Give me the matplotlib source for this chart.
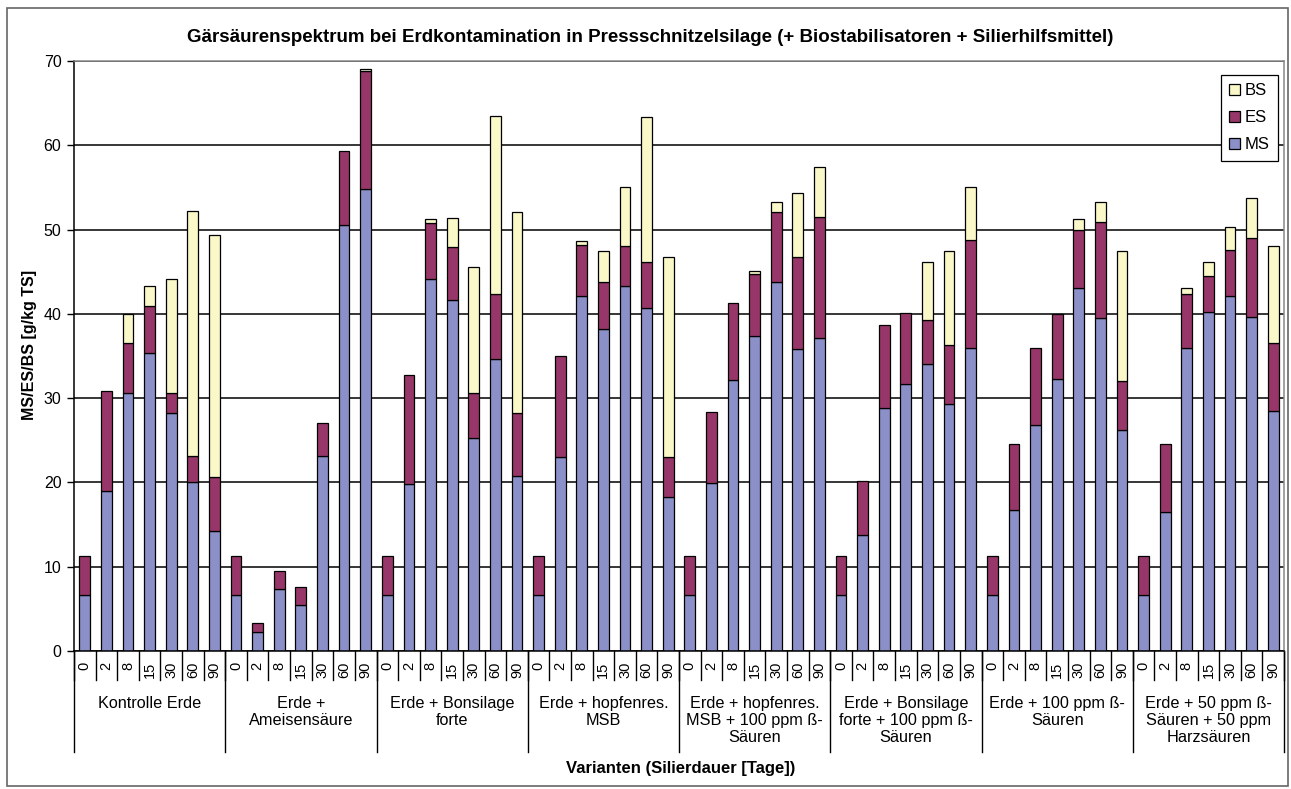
import matplotlib
matplotlib.use("Agg")
import matplotlib.pyplot as plt
import matplotlib.patches as mpatches
import numpy as np

plt.rcParams['font.family'] = ['Liberation Sans', 'DejaVu Sans']

# Silierdauer je Variante
days = ["0", "2", "8", "15", "30", "60", "90"]

groups = [
    "Kontrolle Erde",
    "Erde +\nAmeisensäure",
    "Erde + Bonsilage\nforte",
    "Erde + hopfenres.\nMSB",
    "Erde + hopfenres.\nMSB + 100 ppm ß-\nSäuren",
    "Erde + Bonsilage\nforte + 100 ppm ß-\nSäuren",
    "Erde + 100 ppm ß-\nSäuren",
    "Erde + 50 ppm ß-\nSäuren + 50 ppm\nHarzsäuren",
]

# Milchsäure [g/kg TS]
ms = [
    [6.6, 19.0, 30.6, 35.3, 28.2, 20.0, 14.2],
    [6.6, 2.2, 7.3, 5.5, 23.1, 50.5, 54.8],
    [6.6, 19.8, 44.1, 41.7, 25.3, 34.6, 20.8],
    [6.6, 23.0, 42.1, 38.2, 43.3, 40.7, 18.3],
    [6.6, 19.9, 32.2, 37.4, 43.8, 35.8, 37.1],
    [6.6, 13.8, 28.8, 31.7, 34.0, 29.3, 36.0],
    [6.6, 16.7, 26.8, 32.3, 43.1, 39.5, 26.2],
    [6.6, 16.5, 35.9, 40.2, 42.1, 39.6, 28.5],
]

# Essigsäure [g/kg TS]
es = [
    [4.7, 11.9, 6.0, 5.6, 2.4, 3.1, 6.4],
    [4.7, 1.1, 2.2, 2.1, 3.9, 8.8, 14.0],
    [4.7, 12.9, 6.7, 6.2, 5.3, 7.7, 7.4],
    [4.7, 12.0, 6.1, 5.6, 4.7, 5.5, 4.7],
    [4.7, 8.5, 9.1, 7.3, 8.3, 11.0, 14.4],
    [4.7, 6.4, 9.9, 8.4, 5.3, 7.0, 12.8],
    [4.7, 7.8, 9.2, 7.7, 6.8, 11.4, 5.8],
    [4.7, 8.1, 6.5, 4.3, 5.5, 9.4, 8.0],
]

# Buttersäure [g/kg TS]
bs = [
    [0.0, 0.0, 3.4, 2.4, 13.5, 29.1, 28.8],
    [0.0, 0.0, 0.0, 0.0, 0.0, 0.0, 0.3],
    [0.0, 0.0, 0.4, 3.5, 14.9, 21.2, 23.9],
    [0.0, 0.0, 0.4, 3.6, 7.0, 17.1, 23.8],
    [0.0, 0.0, 0.0, 0.4, 1.2, 7.5, 5.9],
    [0.0, 0.0, 0.0, 0.0, 6.8, 11.2, 6.2],
    [0.0, 0.0, 0.0, 0.0, 1.4, 2.4, 15.4],
    [0.0, 0.0, 0.7, 1.7, 2.7, 4.7, 11.6],
]

col_ms = "#8C90C8"
col_es = "#973769"
col_bs = "#FAF8C8"

W, H = 1291, 789
fig = plt.figure(figsize=(W / 100, H / 100), dpi=100)
ax = fig.add_axes([74 / W, 1 - 651 / H, (1284 - 74) / W, (651 - 61) / H])

ms_flat = np.array(ms).ravel()
es_flat = np.array(es).ravel()
bs_flat = np.array(bs).ravel()
x = np.arange(len(ms_flat))

ax.set_axisbelow(True)
ax.bar(x, ms_flat, width=0.5, color=col_ms, edgecolor="black", linewidth=0.9, zorder=2)
ax.bar(x, es_flat, width=0.5, bottom=ms_flat, color=col_es, edgecolor="black", linewidth=0.9, zorder=2)
has_bs = bs_flat > 0
ax.bar(x[has_bs], bs_flat[has_bs], width=0.5, bottom=(ms_flat + es_flat)[has_bs],
       color=col_bs, edgecolor="black", linewidth=0.9, zorder=2)

ax.set_xlim(-0.5, len(x) - 0.5)
ax.set_ylim(0, 70)
ax.set_yticks(np.arange(0, 71, 10))
ax.tick_params(axis="y", direction="out", length=5, width=1, labelsize=11.5, pad=4)
ax.set_xticks([])
ax.yaxis.grid(True, color="black", linewidth=1.1)

ax.spines["top"].set_color("#888888")
ax.spines["right"].set_color("#888888")
ax.spines["left"].set_color("black")
ax.spines["bottom"].set_color("black")
for s in ax.spines.values():
    s.set_linewidth(1.1)

# zweistufige Kategorienachse
ax_h = (651 - 61)
trans = ax.get_xaxis_transform()
def px(p):
    return -p / ax_h

for i in range(len(x) + 1):
    ax.plot([i - 0.5, i - 0.5], [0, px(29)], transform=trans, color="black",
            linewidth=1, clip_on=False)
for i in range(len(x)):
    ax.text(i, px(11), days[i % len(days)], transform=trans, rotation=90,
            ha="center", va="top", fontsize=10.5)
for g in range(len(groups) + 1):
    ax.plot([g * 7 - 0.5, g * 7 - 0.5], [0, px(101)], transform=trans, color="black",
            linewidth=1, clip_on=False)
for g, name in enumerate(groups):
    ax.text(g * 7 + 3, px(45), name, transform=trans, ha="center", va="top",
            fontsize=11.7, linespacing=1.18)

fig.text(650 / W, 1 - 37 / H, "Gärsäurenspektrum bei Erdkontamination in Pressschnitzelsilage (+ Biostabilisatoren + Silierhilfsmittel)",
         ha="center", va="center", fontsize=13.5, fontweight="bold")
fig.text(30 / W, 1 - 345 / H, "MS/ES/BS [g/kg TS]", rotation=90, ha="center", va="center",
         fontsize=11.5, fontweight="bold")
fig.text(681 / W, 1 - 768 / H, "Varianten (Silierdauer [Tage])", ha="center", va="center",
         fontsize=12, fontweight="bold")

handles = [
    mpatches.Patch(facecolor=col_bs, edgecolor="black", linewidth=0.9, label="BS"),
    mpatches.Patch(facecolor=col_es, edgecolor="black", linewidth=0.9, label="ES"),
    mpatches.Patch(facecolor=col_ms, edgecolor="black", linewidth=0.9, label="MS"),
]
leg = fig.legend(handles=handles, loc="upper right", bbox_to_anchor=(1278 / W, 1 - 75 / H),
                 fontsize=12, frameon=True, fancybox=False, framealpha=1,
                 handlelength=0.65, handleheight=0.65, handletextpad=0.3,
                 labelspacing=0.72, borderpad=0.5, borderaxespad=0)
leg.get_frame().set_edgecolor("black")
leg.get_frame().set_linewidth(0.9)

# Rahmen um das Diagramm
fig.patches.append(mpatches.Rectangle((7 / W, 1 - 786 / H), (1288 - 7) / W, (786 - 8) / H,
                                      transform=fig.transFigure, fill=False,
                                      edgecolor="#666666", linewidth=1.2))

fig.savefig("out.png", dpi=100)
